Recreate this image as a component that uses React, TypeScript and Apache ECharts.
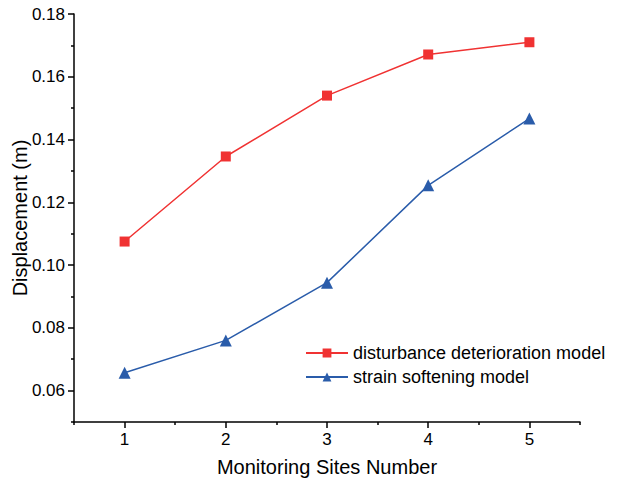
import React, { useEffect, useRef } from "react";
import * as echarts from "echarts";

const sites = [1, 2, 3, 4, 5];
const disturbance = [0.1075, 0.1346, 0.154, 0.1671, 0.1710];
const strain = [0.0657, 0.0760, 0.0944, 0.1254, 0.1467];
const yMajor = [0.06, 0.08, 0.1, 0.12, 0.14, 0.16, 0.18];
const yMinor = [0.05, 0.07, 0.09, 0.11, 0.13, 0.15, 0.17];
const xMajor = [1, 2, 3, 4, 5];
const xMinor = [0.5, 1.5, 2.5, 3.5, 4.5, 5.5];

const FONT = "Liberation Sans, Arial, sans-serif";

export default function App() {
  const ref = useRef<HTMLDivElement>(null);
  useEffect(() => {
    if (!ref.current) return;
    const chart = echarts.init(ref.current, null, { renderer: "svg" });
    const axisLine = { show: true, lineStyle: { color: "#000", width: 1.5 } };
    chart.setOption({
      animation: false,
      textStyle: { fontFamily: FONT },
      grid: { left: 74, right: 42, top: 14, bottom: 64, containLabel: false, outerBoundsMode: "none" },
      legend: {
        orient: "vertical",
        left: 300,
        top: 339,
        itemWidth: 42,
        itemHeight: 11,
        itemGap: 6,
        textStyle: { fontSize: 18, color: "#000", fontFamily: FONT },
        data: ["disturbance deterioration model", "strain softening model"],
      },
      xAxis: [
        {
          type: "value",
          min: 0.5,
          max: 5.5,
          name: "Monitoring Sites Number",
          nameLocation: "middle",
          nameGap: 35,
          nameMoveOverlap: false,
          nameTextStyle: { fontSize: 20, color: "#000", fontFamily: FONT },
          axisLine,
          splitLine: { show: false },
          axisTick: { show: true, length: 6, inside: false, customValues: xMajor, lineStyle: { color: "#000", width: 1.5 } },
          axisLabel: { customValues: xMajor, fontSize: 17, color: "#000", margin: 9, fontFamily: FONT },
        },
        {
          type: "value",
          min: 0.5,
          max: 5.5,
          position: "bottom",
          axisLine: { show: false },
          splitLine: { show: false },
          axisTick: { show: true, length: 3, customValues: xMinor, lineStyle: { color: "#000", width: 1.5 } },
          axisLabel: { show: false },
        },
      ],
      yAxis: [
        {
          type: "value",
          min: 0.05,
          max: 0.18,
          name: "Displacement (m)",
          nameLocation: "middle",
          nameGap: 44,
          nameMoveOverlap: false,
          nameTextStyle: { fontSize: 20, color: "#000", fontFamily: FONT },
          axisLine,
          splitLine: { show: false },
          axisTick: { show: true, length: 6, customValues: yMajor, lineStyle: { color: "#000", width: 1.5 } },
          axisLabel: {
            customValues: yMajor,
            fontSize: 17,
            color: "#000",
            margin: 9,
            fontFamily: FONT,
            formatter: (v: number) => v.toFixed(2),
          },
        },
        {
          type: "value",
          min: 0.05,
          max: 0.18,
          position: "left",
          axisLine: { show: false },
          splitLine: { show: false },
          axisTick: { show: true, length: 3, customValues: yMinor, lineStyle: { color: "#000", width: 1.5 } },
          axisLabel: { show: false },
        },
      ],
      series: [
        {
          name: "disturbance deterioration model",
          type: "line",
          data: sites.map((s, i) => [s, disturbance[i]]),
          symbol: "rect",
          symbolSize: 10,
          color: "#F03232",
          lineStyle: { width: 1.5, color: "#F03232" },
          itemStyle: { color: "#F03232" },
        },
        {
          name: "strain softening model",
          type: "line",
          data: sites.map((s, i) => [s, strain[i]]),
          symbol: "triangle",
          symbolSize: 12,
          color: "#2A5CAA",
          lineStyle: { width: 1.5, color: "#2A5CAA" },
          itemStyle: { color: "#2A5CAA" },
        },
      ],
    });
    return () => chart.dispose();
  }, []);
  return <div ref={ref} style={{ width: 622, height: 486, position: "absolute", left: 0, top: 0, background: "#fff" }} />;
}
